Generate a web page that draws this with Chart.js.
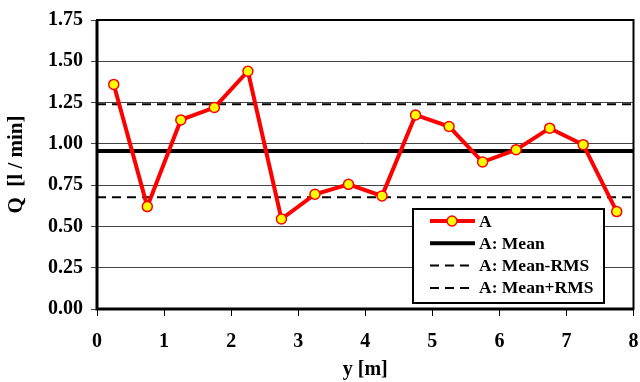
<!DOCTYPE html>
<html>
<head>
<meta charset="utf-8">
<script src="https://cdn.jsdelivr.net/npm/chart.js@4"></script>
<style>
  html, body { margin: 0; padding: 0; background: #fff; }
  #wrap { width: 640px; height: 382px; }
</style>
</head>
<body>
<div id="wrap"><canvas id="chart" width="640" height="382"></canvas></div>
<script>
// positions along y [m] and measured Q [l / min]
const positions = [0.25, 0.75, 1.25, 1.75, 2.25, 2.75, 3.25, 3.75, 4.25, 4.75, 5.25, 5.75, 6.25, 6.75, 7.25, 7.75];
const flowA = [1.36, 0.62, 1.145, 1.22, 1.44, 0.545, 0.695, 0.755, 0.685, 1.175, 1.105, 0.89, 0.965, 1.095, 0.995, 0.59];
const meanA = 0.957;
const meanMinusRms = 0.676;
const meanPlusRms = 1.24;
const xRange = [0, 8];
const yTicks = [0, 0.25, 0.5, 0.75, 1, 1.25, 1.5, 1.75];
const seriesNames = ['A', 'A: Mean', 'A: Mean-RMS', 'A: Mean+RMS'];

const font = 'Liberation Serif, Times New Roman, serif';

const hline = v => xRange.map(x => ({ x: x, y: v }));

// legend drawn inside the plot, lower right
const boxLegend = {
    id: 'boxLegend',
    afterDraw(chart) {
        const ctx = chart.ctx;
        const x0 = 413, y0 = 209, w = 191, h = 94;
        ctx.save();
        ctx.fillStyle = '#fff';
        ctx.fillRect(x0, y0, w, h);
        ctx.strokeStyle = '#000';
        ctx.lineWidth = 2;
        ctx.strokeRect(x0, y0, w, h);
        ctx.font = 'bold 17.5px ' + font;
        ctx.textBaseline = 'middle';
        chart.data.datasets.forEach((ds, i) => {
            const cy = y0 + 12 + i * 22.3;
            ctx.beginPath();
            ctx.setLineDash(ds.borderDash || []);
            ctx.strokeStyle = ds.borderColor;
            ctx.lineWidth = ds.borderWidth;
            ctx.moveTo(x0 + 17, cy);
            ctx.lineTo(x0 + 62, cy);
            ctx.stroke();
            ctx.setLineDash([]);
            if (ds.pointRadius > 0) {
                ctx.beginPath();
                ctx.arc(x0 + 39, cy, 5, 0, Math.PI * 2);
                ctx.fillStyle = ds.pointBackgroundColor;
                ctx.fill();
                ctx.lineWidth = 1.5;
                ctx.strokeStyle = ds.pointBorderColor;
                ctx.stroke();
            }
            ctx.fillStyle = '#000';
            ctx.fillText(ds.label, x0 + 66, cy + 1);
        });
        ctx.restore();
    }
};

// thick frame round the plot area
const frame = {
    id: 'frame',
    afterDatasetsDraw(chart) {
        const a = chart.chartArea, ctx = chart.ctx;
        ctx.save();
        ctx.strokeStyle = '#000';
        ctx.lineWidth = 2;
        ctx.strokeRect(a.left, a.top, a.right - a.left, a.bottom - a.top);
        ctx.lineWidth = 3;
        ctx.beginPath();
        ctx.moveTo(a.left, a.top);
        ctx.lineTo(a.left, a.bottom);
        ctx.lineTo(a.right, a.bottom);
        ctx.stroke();
        ctx.restore();
    }
};

new Chart(document.getElementById('chart'), {
    type: 'line',
    data: {
        datasets: [{
            label: seriesNames[0],
            data: positions.map((p, i) => ({ x: p, y: flowA[i] })),
            borderColor: '#ff0000',
            borderWidth: 4,
            pointRadius: 5,
            pointBackgroundColor: '#ffff00',
            pointBorderColor: '#ff0000',
            pointBorderWidth: 1.5,
            tension: 0,
            order: 0
        }, {
            label: seriesNames[1],
            data: hline(meanA),
            borderColor: '#000',
            borderWidth: 4,
            pointRadius: 0,
            order: 1
        }, {
            label: seriesNames[2],
            data: hline(meanMinusRms),
            borderColor: '#000',
            borderWidth: 2,
            borderDash: [9, 6],
            pointRadius: 0,
            order: 2
        }, {
            label: seriesNames[3],
            data: hline(meanPlusRms),
            borderColor: '#000',
            borderWidth: 2,
            borderDash: [9, 6],
            pointRadius: 0,
            order: 3
        }]
    },
    options: {
        responsive: false,
        animation: false,
        layout: { padding: { top: 20, right: -3, left: 0, bottom: 0 } },
        plugins: {
            legend: { display: false },
            tooltip: { enabled: false }
        },
        scales: {
            x: {
                type: 'linear',
                min: xRange[0],
                max: xRange[1],
                afterFit(scale) {
                    scale.height = 73;
                    scale.paddingLeft = 0;
                    scale.paddingRight = 0;
                },
                ticks: {
                    stepSize: 1,
                    color: '#000',
                    padding: 14,
                    font: { family: font, size: 20, weight: 'bold' }
                },
                grid: { display: true, drawOnChartArea: false, drawTicks: true, tickLength: 7, color: '#000', lineWidth: 1 },
                border: { display: false },
                title: {
                    display: true,
                    text: 'y [m]',
                    color: '#000',
                    padding: { top: 6, bottom: 0 },
                    font: { family: font, size: 20, weight: 'bold' }
                }
            },
            y: {
                min: yTicks[0],
                max: yTicks[yTicks.length - 1],
                afterFit(scale) {
                    scale.width = 97;
                    scale.paddingTop = 0;
                    scale.paddingBottom = 0;
                },
                afterBuildTicks(scale) { scale.ticks = yTicks.map(v => ({ value: v })); },
                ticks: {
                    color: '#000',
                    padding: 8,
                    callback: v => v.toFixed(2),
                    font: { family: font, size: 20, weight: 'bold' }
                },
                grid: { color: '#444', lineWidth: 1, tickLength: 6 },
                border: { display: false },
                title: {
                    display: true,
                    text: 'Q  [l / min]',
                    color: '#000',
                    padding: { bottom: 4 },
                    font: { family: font, size: 21, weight: 'bold' }
                }
            }
        }
    },
    plugins: [frame, boxLegend]
});
</script>
</body>
</html>
